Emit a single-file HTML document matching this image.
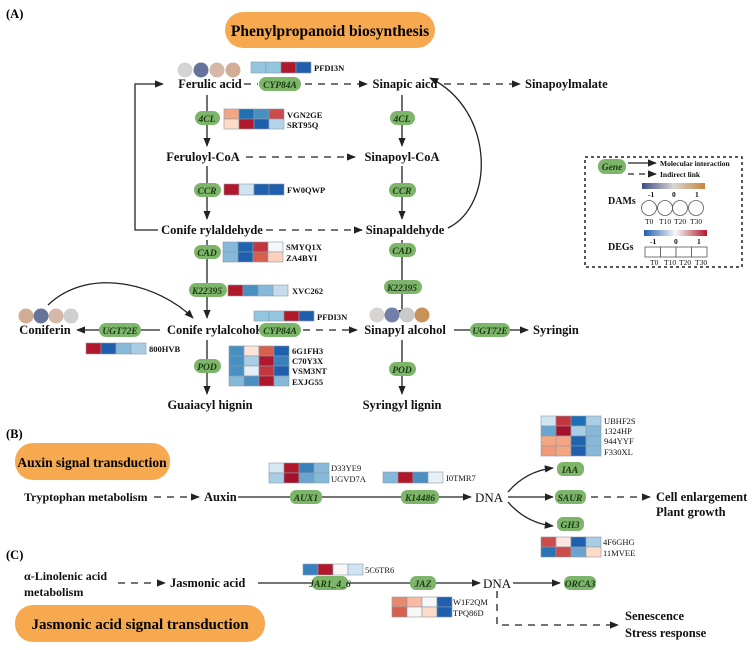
<!DOCTYPE html>
<html><head><meta charset="utf-8"><style>
html,body{margin:0;padding:0;background:#fff}
svg{display:block}
text{font-family:"Liberation Serif",serif}
.m{font-weight:bold;font-size:12.5px;fill:#111}
.g{font-weight:bold;font-style:italic;font-size:9.5px;fill:#1d3a12;text-anchor:middle}
.l{font-weight:bold;font-size:8.5px;fill:#111}
.p{fill:#7db56b}
.h rect{stroke:#8a9aa8;stroke-width:0.6}
</style></head><body>
<svg width="752" height="650" viewBox="0 0 752 650" xmlns="http://www.w3.org/2000/svg">
<defs>
<marker id="a" viewBox="0 0 10 10" refX="9" refY="5" markerWidth="7" markerHeight="7" orient="auto-start-reverse"><path d="M0,1 L10,5 L0,9 z" fill="#222"/></marker>
<linearGradient id="dam" x1="0" x2="1"><stop offset="0" stop-color="#3d4e85"/><stop offset="0.5" stop-color="#d8d6d2"/><stop offset="1" stop-color="#c8853c"/></linearGradient>
<linearGradient id="deg" x1="0" x2="1"><stop offset="0" stop-color="#1f5fae"/><stop offset="0.5" stop-color="#f7f7f7"/><stop offset="1" stop-color="#b2182b"/></linearGradient>
</defs>
<g stroke="#222" stroke-width="1.3" fill="none">
<line x1="207" y1="95" x2="207" y2="146" marker-end="url(#a)"/>
<line x1="207" y1="166" x2="207" y2="219" marker-end="url(#a)"/>
<line x1="207" y1="240" x2="207" y2="318" marker-end="url(#a)"/>
<line x1="207" y1="340" x2="207" y2="394" marker-end="url(#a)"/>
<polyline points="158,230 135,230 135,84 163,84" marker-end="url(#a)"/>
<line x1="402" y1="95" x2="402" y2="146" marker-end="url(#a)"/>
<line x1="402" y1="166" x2="402" y2="219" marker-end="url(#a)"/>
<line x1="402" y1="240" x2="402" y2="318" marker-end="url(#a)"/>
<line x1="402" y1="340" x2="402" y2="394" marker-end="url(#a)"/>
<path d="M448,228 C495,205 495,110 430,78" marker-end="url(#a)"/>
<g stroke-dasharray="7,6">
<line x1="244" y1="84" x2="258" y2="84"/>
<line x1="305" y1="84" x2="367" y2="84" marker-end="url(#a)"/>
<line x1="444" y1="84" x2="520" y2="84" marker-end="url(#a)"/>
<line x1="246" y1="157" x2="355" y2="157" marker-end="url(#a)"/>
<line x1="266" y1="230" x2="362" y2="230" marker-end="url(#a)"/>
<line x1="303" y1="330" x2="357" y2="330" marker-end="url(#a)"/>
</g>
<line x1="266" y1="330" x2="258" y2="330"/>
<line x1="160" y1="330" x2="77" y2="330" marker-end="url(#a)"/>
<line x1="454" y1="330" x2="528" y2="330" marker-end="url(#a)"/>
<path d="M48,305 C90,265 160,285 193,318" marker-end="url(#a)"/>
<line x1="154" y1="497" x2="199" y2="497" stroke-dasharray="7,6" marker-end="url(#a)"/>
<line x1="238" y1="497" x2="471" y2="497" marker-end="url(#a)"/>
<path d="M508,492 C520,478 535,470 553,468" marker-end="url(#a)"/>
<line x1="508" y1="497" x2="553" y2="497" marker-end="url(#a)"/>
<path d="M508,502 C520,516 535,524 553,526" marker-end="url(#a)"/>
<line x1="591" y1="497" x2="650" y2="497" stroke-dasharray="7,6" marker-end="url(#a)"/>
<line x1="118" y1="583" x2="165" y2="583" stroke-dasharray="7,6" marker-end="url(#a)"/>
<line x1="258" y1="583" x2="480" y2="583" marker-end="url(#a)"/>
<line x1="513" y1="583" x2="560" y2="583" marker-end="url(#a)"/>
<polyline points="497,591 497,625 618,625" stroke-dasharray="7,6" marker-end="url(#a)"/>
<rect x="585" y="157" width="157" height="110" stroke-dasharray="3,3" stroke-width="1.5"/>
<line x1="628" y1="163" x2="656" y2="163" marker-end="url(#a)"/>
<line x1="628" y1="174" x2="656" y2="174" stroke-dasharray="6,5" marker-end="url(#a)"/>
</g>
<rect x="225" y="12" width="210" height="36" rx="18" fill="#f6a94f"/>
<text x="330" y="36" text-anchor="middle" style="font-weight:bold;font-size:15.5px">Phenylpropanoid biosynthesis</text>
<rect x="15" y="443" width="155" height="37" rx="18" fill="#f6a94f"/>
<text x="92" y="467" text-anchor="middle" style="font-weight:bold;font-size:13.5px">Auxin signal transduction</text>
<rect x="15" y="605" width="250" height="37" rx="18" fill="#f6a94f"/>
<text x="140" y="629" text-anchor="middle" style="font-weight:bold;font-size:15px">Jasmonic acid signal transduction</text>
<text x="6" y="18" style="font-weight:bold;font-size:12.5px">(A)</text>
<text x="6" y="438" style="font-weight:bold;font-size:12.5px">(B)</text>
<text x="6" y="559" style="font-weight:bold;font-size:12.5px">(C)</text>
<text class="m" x="210" y="88" text-anchor="middle">Ferulic acid</text>
<text class="m" x="405" y="88" text-anchor="middle">Sinapic aicd</text>
<text class="m" x="525" y="88">Sinapoylmalate</text>
<text class="m" x="203" y="161" text-anchor="middle">Feruloyl-CoA</text>
<text class="m" x="402" y="161" text-anchor="middle">Sinapoyl-CoA</text>
<text class="m" x="212" y="234" text-anchor="middle">Conife rylaldehyde</text>
<text class="m" x="405" y="234" text-anchor="middle">Sinapaldehyde</text>
<text class="m" x="213" y="334" text-anchor="middle">Conife rylalcohol</text>
<text class="m" x="45" y="334" text-anchor="middle">Coniferin</text>
<text class="m" x="405" y="334" text-anchor="middle">Sinapyl alcohol</text>
<text class="m" x="533" y="334">Syringin</text>
<text class="m" x="210" y="409" text-anchor="middle">Guaiacyl hignin</text>
<text class="m" x="402" y="409" text-anchor="middle">Syringyl lignin</text>
<text class="m" x="24" y="501" style="font-size:12px">Tryptophan metabolism</text>
<text class="m" x="204" y="501">Auxin</text>
<text class="m" x="475" y="502" style="font-weight:normal;font-size:13px">DNA</text>
<text class="m" x="656" y="501">Cell enlargement</text>
<text class="m" x="656" y="516">Plant growth</text>
<text class="m" x="24" y="580" style="font-size:12px">α-Linolenic acid</text>
<text class="m" x="24" y="596" style="font-size:12px">metabolism</text>
<text class="m" x="170" y="587">Jasmonic acid</text>
<text class="m" x="483" y="588" style="font-weight:normal;font-size:13px">DNA</text>
<text class="m" x="625" y="620">Senescence</text>
<text class="m" x="625" y="637">Stress response</text>
<g>
<rect class="p" x="259" y="77" width="42" height="14" rx="7"/><text class="g" x="280" y="88">CYP84A</text>
<rect class="p" x="195" y="111" width="25" height="14" rx="7"/><text class="g" x="207" y="122">4CL</text>
<rect class="p" x="194" y="183" width="27" height="14" rx="7"/><text class="g" x="207" y="194">CCR</text>
<rect class="p" x="194" y="245" width="27" height="14" rx="7"/><text class="g" x="207" y="256">CAD</text>
<rect class="p" x="189" y="283" width="38" height="14" rx="7"/><text class="g" x="207" y="294">K22395</text>
<rect class="p" x="259" y="323" width="42" height="14" rx="7"/><text class="g" x="280" y="334">CYP84A</text>
<rect class="p" x="99" y="323" width="42" height="14" rx="7"/><text class="g" x="120" y="334">UGT72E</text>
<rect class="p" x="194" y="359" width="27" height="14" rx="7"/><text class="g" x="207" y="370">POD</text>
<rect class="p" x="390" y="111" width="25" height="14" rx="7"/><text class="g" x="402" y="122">4CL</text>
<rect class="p" x="389" y="183" width="27" height="14" rx="7"/><text class="g" x="402" y="194">CCR</text>
<rect class="p" x="389" y="243" width="27" height="14" rx="7"/><text class="g" x="402" y="254">CAD</text>
<rect class="p" x="384" y="280" width="38" height="14" rx="7"/><text class="g" x="402" y="291">K22395</text>
<rect class="p" x="389" y="362" width="27" height="14" rx="7"/><text class="g" x="402" y="373">POD</text>
<rect class="p" x="470" y="323" width="40" height="14" rx="7"/><text class="g" x="490" y="334">UGT72E</text>
<rect class="p" x="290" y="490" width="32" height="14" rx="6"/><text class="g" x="306" y="501">AUX1</text>
<rect class="p" x="401" y="490" width="38" height="14" rx="6"/><text class="g" x="420" y="501">K14486</text>
<rect class="p" x="557" y="462" width="27" height="14" rx="6"/><text class="g" x="570" y="473">IAA</text>
<rect class="p" x="555" y="490" width="31" height="14" rx="6"/><text class="g" x="570" y="501">SAUR</text>
<rect class="p" x="557" y="517" width="27" height="14" rx="6"/><text class="g" x="570" y="528">GH3</text>
<rect class="p" x="312" y="576" width="36" height="14" rx="6"/><text class="g" x="330" y="587">JAR1_4_6</text>
<rect class="p" x="410" y="576" width="26" height="14" rx="6"/><text class="g" x="423" y="587">JAZ</text>
<rect class="p" x="564" y="576" width="32" height="14" rx="6"/><text class="g" x="580" y="587">ORCA3</text>
<rect class="p" x="598" y="159" width="28" height="15" rx="7"/><text class="g" x="612" y="170">Gene</text>
</g>
<g>
<circle cx="185" cy="70" r="7.5" fill="#d4d4d4"/><circle cx="201" cy="70" r="7.5" fill="#66739a"/><circle cx="217" cy="70" r="7.5" fill="#d5b8a8"/><circle cx="233" cy="70" r="7.5" fill="#d2ad95"/>
<circle cx="26" cy="316" r="7.5" fill="#d2ad95"/><circle cx="41" cy="316" r="7.5" fill="#66739a"/><circle cx="56" cy="316" r="7.5" fill="#d5b8a8"/><circle cx="71" cy="316" r="7.5" fill="#cfcfd1"/>
<circle cx="377" cy="315" r="7.5" fill="#d8d4d0"/><circle cx="392" cy="315" r="7.5" fill="#7280a8"/><circle cx="407" cy="315" r="7.5" fill="#c9c9cc"/><circle cx="422" cy="315" r="7.5" fill="#c8925a"/>
</g>
<g class="h">
<rect x="251" y="62" width="15" height="11" fill="#92c5de"/><rect x="266" y="62" width="15" height="11" fill="#92c5de"/><rect x="281" y="62" width="15" height="11" fill="#b2182b"/><rect x="296" y="62" width="15" height="11" fill="#1f5fae"/>
<rect x="224" y="109" width="15" height="10" fill="#f4a582"/><rect x="239" y="109" width="15" height="10" fill="#1f6fb4"/><rect x="254" y="109" width="15" height="10" fill="#4a8fc2"/><rect x="269" y="109" width="15" height="10" fill="#cc4b4b"/>
<rect x="224" y="119" width="15" height="10" fill="#fddbc7"/><rect x="239" y="119" width="15" height="10" fill="#b2182b"/><rect x="254" y="119" width="15" height="10" fill="#1f5fae"/><rect x="269" y="119" width="15" height="10" fill="#b5d4e9"/>
<rect x="224" y="184" width="15" height="11" fill="#b2182b"/><rect x="239" y="184" width="15" height="11" fill="#cfe3f1"/><rect x="254" y="184" width="15" height="11" fill="#1f5fae"/><rect x="269" y="184" width="15" height="11" fill="#1f5fae"/>
<rect x="223" y="242" width="15" height="10" fill="#86b8da"/><rect x="238" y="242" width="15" height="10" fill="#1f64ad"/><rect x="253" y="242" width="15" height="10" fill="#c2373e"/><rect x="268" y="242" width="15" height="10" fill="#f4f6f7"/>
<rect x="223" y="252" width="15" height="10" fill="#86b8da"/><rect x="238" y="252" width="15" height="10" fill="#1f5fae"/><rect x="253" y="252" width="15" height="10" fill="#d6604d"/><rect x="268" y="252" width="15" height="10" fill="#fdd0bd"/>
<rect x="228" y="285" width="15" height="11" fill="#b2182b"/><rect x="243" y="285" width="15" height="11" fill="#4a8fc2"/><rect x="258" y="285" width="15" height="11" fill="#86b8da"/><rect x="273" y="285" width="15" height="11" fill="#c4dcec"/>
<rect x="254" y="311" width="15" height="10" fill="#92c5de"/><rect x="269" y="311" width="15" height="10" fill="#92c5de"/><rect x="284" y="311" width="15" height="10" fill="#b2182b"/><rect x="299" y="311" width="15" height="10" fill="#1f5fae"/>
<rect x="86" y="343" width="15" height="11" fill="#b2182b"/><rect x="101" y="343" width="15" height="11" fill="#1f5fae"/><rect x="116" y="343" width="15" height="11" fill="#86b8da"/><rect x="131" y="343" width="15" height="11" fill="#a9cde4"/>
<rect x="229" y="346" width="15" height="10" fill="#4a8fc2"/><rect x="244" y="346" width="15" height="10" fill="#fde3d8"/><rect x="259" y="346" width="15" height="10" fill="#d6604d"/><rect x="274" y="346" width="15" height="10" fill="#1f5fae"/>
<rect x="229" y="356" width="15" height="10" fill="#4a8fc2"/><rect x="244" y="356" width="15" height="10" fill="#a9cde4"/><rect x="259" y="356" width="15" height="10" fill="#b2182b"/><rect x="274" y="356" width="15" height="10" fill="#3a80bd"/>
<rect x="229" y="366" width="15" height="10" fill="#4a8fc2"/><rect x="244" y="366" width="15" height="10" fill="#e6eff6"/><rect x="259" y="366" width="15" height="10" fill="#c2373e"/><rect x="274" y="366" width="15" height="10" fill="#1f5fae"/>
<rect x="229" y="376" width="15" height="10" fill="#86b8da"/><rect x="244" y="376" width="15" height="10" fill="#4a8fc2"/><rect x="259" y="376" width="15" height="10" fill="#b2182b"/><rect x="274" y="376" width="15" height="10" fill="#86b8da"/>
<rect x="269" y="463" width="15" height="10" fill="#d7e7f2"/><rect x="284" y="463" width="15" height="10" fill="#b2182b"/><rect x="299" y="463" width="15" height="10" fill="#3a80bd"/><rect x="314" y="463" width="15" height="10" fill="#86b8da"/>
<rect x="269" y="473" width="15" height="10" fill="#a9cde4"/><rect x="284" y="473" width="15" height="10" fill="#a4112a"/><rect x="299" y="473" width="15" height="10" fill="#6aa5d0"/><rect x="314" y="473" width="15" height="10" fill="#86b8da"/>
<rect x="383" y="472" width="15" height="11" fill="#86b8da"/><rect x="398" y="472" width="15" height="11" fill="#b2182b"/><rect x="413" y="472" width="15" height="11" fill="#4a8fc2"/><rect x="428" y="472" width="15" height="11" fill="#e8f0f6"/>
<rect x="541" y="416" width="15" height="10" fill="#d1e5f0"/><rect x="556" y="416" width="15" height="10" fill="#c2373e"/><rect x="571" y="416" width="15" height="10" fill="#1f6fb4"/><rect x="586" y="416" width="15" height="10" fill="#a9cde4"/>
<rect x="541" y="426" width="15" height="10" fill="#6aa5d0"/><rect x="556" y="426" width="15" height="10" fill="#a4112a"/><rect x="571" y="426" width="15" height="10" fill="#a9cde4"/><rect x="586" y="426" width="15" height="10" fill="#86b8da"/>
<rect x="541" y="436" width="15" height="10" fill="#f4a582"/><rect x="556" y="436" width="15" height="10" fill="#f4a582"/><rect x="571" y="436" width="15" height="10" fill="#1f64ad"/><rect x="586" y="436" width="15" height="10" fill="#86b8da"/>
<rect x="541" y="446" width="15" height="10" fill="#f09a78"/><rect x="556" y="446" width="15" height="10" fill="#f4a582"/><rect x="571" y="446" width="15" height="10" fill="#1f5fae"/><rect x="586" y="446" width="15" height="10" fill="#86b8da"/>
<rect x="541" y="537" width="15" height="10" fill="#cc4b4b"/><rect x="556" y="537" width="15" height="10" fill="#fde6df"/><rect x="571" y="537" width="15" height="10" fill="#1f5fae"/><rect x="586" y="537" width="15" height="10" fill="#a9cde4"/>
<rect x="541" y="547" width="15" height="10" fill="#2a73b6"/><rect x="556" y="547" width="15" height="10" fill="#cc4b4b"/><rect x="571" y="547" width="15" height="10" fill="#6aa5d0"/><rect x="586" y="547" width="15" height="10" fill="#fddbc7"/>
<rect x="303" y="564" width="15" height="11" fill="#3a80bd"/><rect x="318" y="564" width="15" height="11" fill="#b2182b"/><rect x="333" y="564" width="15" height="11" fill="#f7f7f7"/><rect x="348" y="564" width="15" height="11" fill="#cfe3f1"/>
<rect x="392" y="597" width="15" height="10" fill="#e8886e"/><rect x="407" y="597" width="15" height="10" fill="#fbb9a4"/><rect x="422" y="597" width="15" height="10" fill="#f7f7f7"/><rect x="437" y="597" width="15" height="10" fill="#1f5fae"/>
<rect x="392" y="607" width="15" height="10" fill="#d6604d"/><rect x="407" y="607" width="15" height="10" fill="#f7f7f7"/><rect x="422" y="607" width="15" height="10" fill="#fddbc7"/><rect x="437" y="607" width="15" height="10" fill="#1f5fae"/>
</g>
<g class="l">
<text x="314" y="71">PFDI3N</text>
<text x="287" y="118">VGN2GE</text><text x="287" y="128">SRT95Q</text>
<text x="287" y="193">FW0QWP</text>
<text x="286" y="250">SMYQ1X</text><text x="286" y="261">ZA4BYI</text>
<text x="292" y="294">XVC262</text>
<text x="317" y="320">PFDI3N</text>
<text x="149" y="352">800HVB</text>
<text x="292" y="354">6G1FH3</text><text x="292" y="364">C70Y3X</text><text x="292" y="374">VSM3NT</text><text x="292" y="385">EXJG55</text>
<text x="331" y="471" style="font-weight:normal">D33YE9</text><text x="331" y="482" style="font-weight:normal">UGVD7A</text>
<text x="446" y="481" style="font-weight:normal">I0TMR7</text>
<text x="604" y="424" style="font-weight:normal">UBHF2S</text><text x="604" y="434" style="font-weight:normal">1324HP</text><text x="604" y="444" style="font-weight:normal">944YYF</text><text x="604" y="455" style="font-weight:normal">F330XL</text>
<text x="603" y="545" style="font-weight:normal">4F6GHG</text><text x="603" y="556" style="font-weight:normal">11MVEE</text>
<text x="365" y="573" style="font-weight:normal">5C6TR6</text>
<text x="453" y="605" style="font-weight:normal">W1F2QM</text><text x="453" y="616" style="font-weight:normal">TPQ86D</text>
</g>
<g class="l" style="font-size:7.5px">
<text x="660" y="166">Molecular interaction</text>
<text x="660" y="177">Indirect link</text>
<rect x="642" y="183" width="63" height="6" fill="url(#dam)"/>
<text x="648" y="197">-1</text><text x="672" y="197">0</text><text x="695" y="197">1</text>
<text x="608" y="204" style="font-size:10px">DAMs</text>
<g fill="#fff" stroke="#555" stroke-width="0.8"><circle cx="649" cy="208" r="7.5"/><circle cx="665" cy="208" r="7.5"/><circle cx="680" cy="208" r="7.5"/><circle cx="696" cy="208" r="7.5"/></g>
<text x="645" y="224" style="font-weight:normal">T0</text><text x="659" y="224" style="font-weight:normal">T10</text><text x="674" y="224" style="font-weight:normal">T20</text><text x="690" y="224" style="font-weight:normal">T30</text>
<rect x="644" y="230" width="63" height="6" fill="url(#deg)"/>
<text x="650" y="244">-1</text><text x="674" y="244">0</text><text x="697" y="244">1</text>
<text x="608" y="250" style="font-size:10px">DEGs</text>
<g fill="#fff" stroke="#555" stroke-width="0.8"><rect x="645" y="247" width="15.5" height="10"/><rect x="660.5" y="247" width="15.5" height="10"/><rect x="676" y="247" width="15.5" height="10"/><rect x="691.5" y="247" width="15.5" height="10"/></g>
<text x="650" y="265" style="font-weight:normal">T0</text><text x="664" y="265" style="font-weight:normal">T10</text><text x="679" y="265" style="font-weight:normal">T20</text><text x="695" y="265" style="font-weight:normal">T30</text>
</g>
</svg>
</body></html>
